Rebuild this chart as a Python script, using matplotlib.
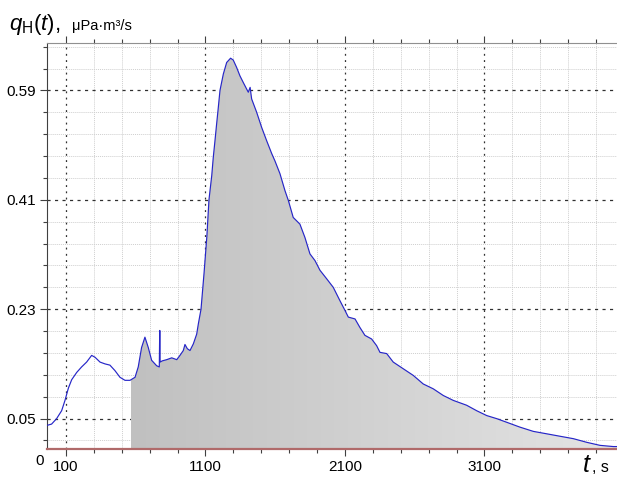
import numpy as np
import matplotlib.pyplot as plt
from matplotlib.patches import PathPatch
from matplotlib.colors import LinearSegmentedColormap

plt.rcParams['font.family'] = ['Liberation Sans', 'DejaVu Sans']
plt.rcParams['mathtext.fontset'] = 'custom'
plt.rcParams['mathtext.it'] = 'Liberation Sans:italic'
plt.rcParams['mathtext.rm'] = 'Liberation Sans'

# измеренный поток q_H(t), мкПа*м3/с
t = [-34, -3, 33, 69, 93, 117, 141, 177, 212, 248, 284, 308, 344, 380, 415,
     451, 487, 523, 559, 595, 618, 642, 666, 690, 714, 750, 769, 772, 773,
     775, 790, 822, 858, 894, 917, 941, 953, 970, 989, 1013, 1037, 1049,
     1068, 1090, 1110, 1125, 1145, 1156, 1168, 1180, 1192, 1204, 1228, 1252,
     1280, 1299, 1323, 1347, 1371, 1407, 1420, 1431, 1467, 1503, 1539, 1575,
     1598, 1634, 1670, 1694, 1729, 1777, 1813, 1849, 1885, 1921, 1969, 2016,
     2064, 2100, 2124, 2172, 2207, 2243, 2291, 2327, 2351, 2399, 2446, 2518,
     2590, 2661, 2733, 2805, 2876, 2972, 3044, 3116, 3187, 3259, 3354, 3450,
     3546, 3641, 3737, 3833, 3928, 4024, 4050]
q = [0.039, 0.041, 0.050, 0.063, 0.080, 0.100, 0.114, 0.126, 0.135, 0.143,
     0.154, 0.151, 0.143, 0.140, 0.138, 0.129, 0.118, 0.113, 0.113, 0.118,
     0.135, 0.167, 0.184, 0.167, 0.146, 0.137, 0.135, 0.195, 0.195, 0.143,
     0.145, 0.147, 0.150, 0.147, 0.154, 0.162, 0.172, 0.165, 0.162, 0.173,
     0.189, 0.206, 0.230, 0.290, 0.350, 0.410, 0.450, 0.480, 0.507, 0.535,
     0.562, 0.590, 0.617, 0.636, 0.643, 0.640, 0.628, 0.614, 0.603, 0.587,
     0.595, 0.576, 0.554, 0.529, 0.507, 0.486, 0.474, 0.453, 0.425, 0.409,
     0.381, 0.370, 0.348, 0.321, 0.310, 0.294, 0.280, 0.266, 0.244, 0.228,
     0.217, 0.214, 0.200, 0.187, 0.181, 0.170, 0.159, 0.157, 0.143, 0.132,
     0.121, 0.107, 0.099, 0.088, 0.080, 0.072, 0.063, 0.055, 0.050, 0.044,
     0.036, 0.029, 0.025, 0.021, 0.017, 0.011, 0.006, 0.004, 0.004]
t_start = 566          # начало интегрирования
xmin, xmax = -36, 4050
ymax = 0.668

ytick_major = [0.05, 0.23, 0.41, 0.59]
xtick_major = [100, 1100, 2100, 3100]

t = np.array(t, dtype=float)
q = np.array(q)

fig = plt.figure(figsize=(6.17, 4.78), dpi=100)
ax = fig.add_axes([47/617, 1 - 449/478, 1 - 47/617, (449 - 43)/478])

yminor = [y for y in np.arange(0.014, ymax, 0.036)
          if min(abs(y - v) for v in ytick_major) > 1e-6]
xminor = [x for x in range(300, 4050, 200) if x not in xtick_major]

# сетка
for y in yminor:
    ax.axhline(y, color='#cfcfcf', lw=0.7, ls=(0, (1, 1)), zorder=0)
for y in ytick_major:
    ax.axhline(y, color='#303030', lw=0.9, ls=(0, (2.5, 3.5)), zorder=0.5)
for x in xminor:
    ax.axvline(x, color='#cfcfcf', lw=0.7, ls=(0, (1, 1)), zorder=0)
for x in xtick_major:
    ax.axvline(x, color='#303030', lw=0.9, ls=(0, (1.5, 3.5)), zorder=0.5)

# заливка площади под кривой (градиент)
mask = t >= t_start
qs = np.interp(t_start, t, q)
tf = np.concatenate([[t_start, t_start], t[mask], [t[mask][-1]]])
qf = np.concatenate([[0, qs], q[mask], [0]])
poly = ax.fill(tf, qf, color='none', zorder=1)[0]
clip = PathPatch(poly.get_path(), transform=ax.transData, facecolor='none',
                 edgecolor='none')
ax.add_patch(clip)
cmap = LinearSegmentedColormap.from_list('g', ['#c0c0c0', '#d2d2d2', '#e4e4e4'])
grad = np.linspace(0, 1, 256).reshape(1, -1)
im = ax.imshow(grad, extent=[t_start, xmax, 0, ymax], aspect='auto',
               cmap=cmap, zorder=1, origin='lower')
im.set_clip_path(clip)

ax.plot(t, q, color='#2626c8', lw=0.85, zorder=3)
ax.axhline(0, color='#b06a6a', lw=1.6, zorder=4, clip_on=False)

ax.set_xlim(xmin, xmax)
ax.set_ylim(0, ymax)

ax.set_xticks(xtick_major)
ax.set_xticks(xminor, minor=True)
ax.set_yticks(ytick_major)
ax.set_yticks(yminor, minor=True)
ax.set_xticklabels([str(v) for v in xtick_major])
ax.set_yticklabels(['%.2f' % v for v in ytick_major])
ax.tick_params(axis='both', which='major', labelsize=11, color='#404040',
               length=5, width=0.8, pad=3)
ax.tick_params(axis='both', which='minor', color='#404040', length=3, width=0.8)
ax.tick_params(axis='x', which='both', top=True, direction='out')
ax.tick_params(axis='x', which='both', labeltop=False)

ax.spines['right'].set_visible(False)
ax.spines['left'].set_color('#404040')
ax.spines['top'].set_color('#909090')
ax.spines['bottom'].set_visible(False)

fig.text(35/617, 1 - 461/478, '0', fontsize=11, ha='left', va='center')
fig.text(9/617, 1 - 30/478, r'$q_{\mathrm{H}}(t)$,', fontsize=16, ha='left',
         va='baseline')
fig.text(72/617, 1 - 30/478, 'μPa·m³/s', fontsize=10.5, ha='left', va='baseline')
fig.text(582/617, 1 - 472/478, r'$t$', fontsize=18, ha='left', va='baseline')
fig.text(592/617, 1 - 472/478, ', s', fontsize=11.5, ha='left', va='baseline')

fig.savefig('out.png', dpi=100)
